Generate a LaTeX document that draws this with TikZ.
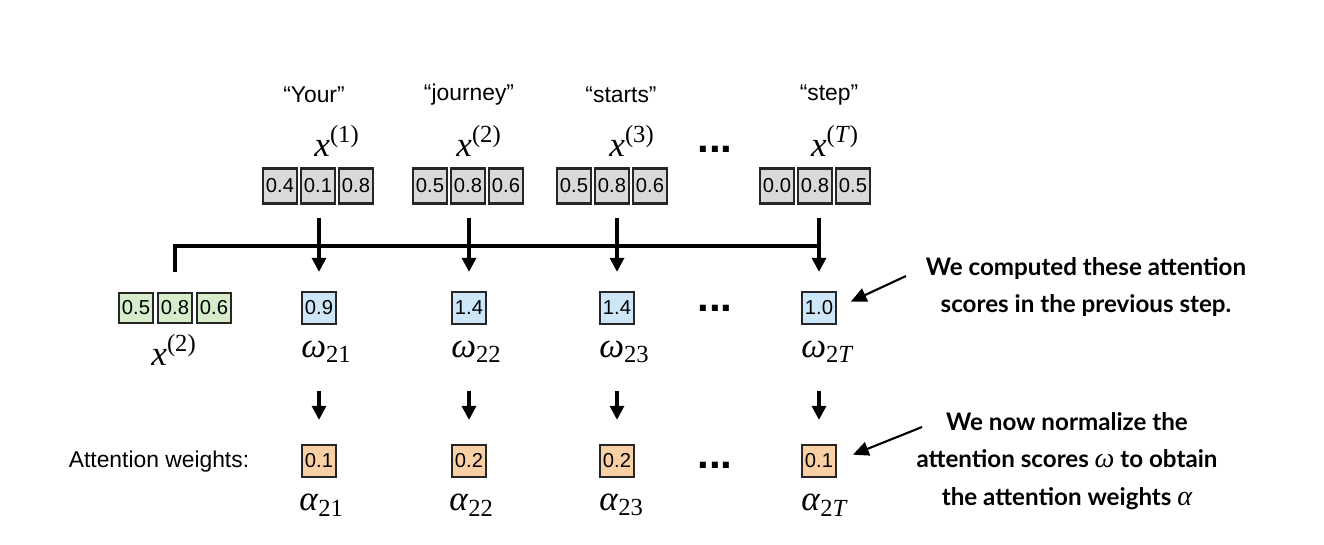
\documentclass[tikz,border=0pt]{standalone}
\usepackage{fontspec}
\setmainfont{Liberation Sans}
\newfontfamily\notefont{Lato}
\newfontfamily\symfont{Liberation Serif}
\usetikzlibrary{arrows.meta}

\definecolor{vecgray}{HTML}{D9D9D9}
\definecolor{vecgreen}{HTML}{D5EDCB}
\definecolor{scoreblue}{HTML}{CDE6F8}
\definecolor{weightorange}{HTML}{F9D0A6}

% italic letter with upright index
\newcommand{\symup}[2]{\textit{#1}\textsuperscript{#2}}
\newcommand{\symdown}[2]{\textit{#1}\textsubscript{#2}}

\begin{document}
\begin{tikzpicture}[x=0.02cm,y=-0.02cm]
        \tikzset{vec/.style = {draw=black!85,line width=1.3pt,fill=vecgray,minimum width=0.68cm,minimum height=0.7cm,inner sep=0pt,font=\fontsize{11.5}{11.5}\selectfont}}
        \tikzset{query/.style = {vec,minimum height=0.6cm,fill=vecgreen}}
        \tikzset{score/.style = {vec,minimum width=0.68cm,minimum height=0.64cm,fill=scoreblue,font=\fontsize{11.5}{11.5}\selectfont}}
        \tikzset{weight/.style = {score,fill=weightorange}}
        \tikzset{word/.style = {font=\fontsize{13}{13}\selectfont}}
        \tikzset{sym/.style = {inner sep=0pt,font=\symfont\fontsize{20}{20}\selectfont}}
        \tikzset{dots/.style = {anchor=base,inner sep=0pt,font=\fontsize{24}{24}\selectfont\bfseries}}
        \tikzset{note/.style = {align=center,font=\notefont\bfseries\fontsize{13.75}{21.5}\selectfont}}
        \tikzset{arr/.style = {line width=1.8pt,-{Triangle[length=8pt,width=8pt]}}}
        \tikzset{pointer/.style = {line width=1.2pt,-{Triangle[length=9pt,width=8pt]}}}

        \useasboundingbox[fill=white] (0,0) rectangle (1324,544);

        \node[word] (your) at (314,95) {“Your”};
        \node[word] (journey) at (469,95) {“journey”};
        \node[word] (starts) at (621,95) {“starts”};
        \node[word] (step) at (829,95) {“step”};

        \node[sym] (x1) at (337,141) {\symup{x}{(1)}};
        \node[sym] (x2) at (479,141) {\symup{x}{(2)}};
        \node[sym] (x3) at (632,141) {\symup{x}{(3)}};
        \node[sym] (xT) at (835,141) {\symup{x}{(\textit{T})}};
        \node[dots] (d1) at (715,153) {...};

        \node[vec] (x1a) at (280,186) {0.4};
        \node[vec] (x1b) at (318,186) {0.1};
        \node[vec] (x1c) at (356,186) {0.8};
        \node[vec] (x2a) at (430,186) {0.5};
        \node[vec] (x2b) at (468,186) {0.8};
        \node[vec] (x2c) at (506,186) {0.6};
        \node[vec] (x3a) at (574,186) {0.5};
        \node[vec] (x3b) at (612,186) {0.8};
        \node[vec] (x3c) at (650,186) {0.6};
        \node[vec] (xTa) at (777,186) {0.0};
        \node[vec] (xTb) at (815,186) {0.8};
        \node[vec] (xTc) at (853,186) {0.5};

        \node[query] (q1) at (136,308) {0.5};
        \node[query] (q2) at (175,308) {0.8};
        \node[query] (q3) at (214,308) {0.6};
        \node[sym] (xq) at (174,350) {\symup{x}{(2)}};

        \node[score] (s1) at (319,308) {0.9};
        \node[score] (s2) at (469,308) {1.4};
        \node[score] (s3) at (617,308) {1.4};
        \node[score] (sT) at (819,308) {1.0};
        \node[dots] (d2) at (715,311) {...};

        \node[sym,anchor=west] (w1) at (301,352) {\symdown{ω}{21}};
        \node[sym,anchor=west] (w2) at (451,352) {\symdown{ω}{22}};
        \node[sym,anchor=west] (w3) at (599,352) {\symdown{ω}{23}};
        \node[sym,anchor=west] (wT) at (801,352) {\symdown{ω}{2\textit{T}}};

        \node[word] (attn) at (159,462) {Attention weights:};
        \node[weight] (o1) at (319,461) {0.1};
        \node[weight] (o2) at (469,461) {0.2};
        \node[weight] (o3) at (617,461) {0.2};
        \node[weight] (oT) at (819,461) {0.1};
        \node[dots] (d3) at (715,468) {...};

        \node[sym,anchor=west] (a1) at (299,505) {\symdown{α}{21}};
        \node[sym,anchor=west] (a2) at (449,505) {\symdown{α}{22}};
        \node[sym,anchor=west] (a3) at (599,505) {\symdown{α}{23}};
        \node[sym,anchor=west] (aT) at (801,505) {\symdown{α}{2\textit{T}}};

        \node[note] (note1) at (1086,287) {We computed these attention\\scores in the previous step.};
        \node[note] (note2) at (1067,461) {We now normalize the\\attention scores {\symfont\mdseries\itshape\fontsize{16}{16}\selectfont ω} to obtain\\the attention weights {\symfont\mdseries\itshape\fontsize{16}{16}\selectfont α}};

        % query vector joins every input
        \coordinate (bus) at (819,246);
        \draw[line width=1.8pt,shorten <=0.4cm] (q2.north) |- (bus);

        \draw[arr,shorten <=0.26cm,shorten >=0.38cm] (s1 |- x1b.south) -- (s1.north);
        \draw[arr,shorten <=0.26cm,shorten >=0.38cm] (s2 |- x2b.south) -- (s2.north);
        \draw[arr,shorten <=0.26cm,shorten >=0.38cm] (s3 |- x3b.south) -- (s3.north);
        \draw[arr,shorten <=0.26cm,shorten >=0.38cm] (sT |- xTb.south) -- (sT.north);

        \draw[arr,shorten <=1.32cm,shorten >=0.48cm] (s1.south) -- (o1.north);
        \draw[arr,shorten <=1.32cm,shorten >=0.48cm] (s2.south) -- (o2.north);
        \draw[arr,shorten <=1.32cm,shorten >=0.48cm] (s3.south) -- (o3.north);
        \draw[arr,shorten <=1.32cm,shorten >=0.48cm] (sT.south) -- (oT.north);

        \coordinate (p1) at (906,276);
        \coordinate (p2) at (922,427);
        \draw[pointer,shorten >=0.3cm] (p1) -- (sT.east);
        \draw[pointer,shorten >=0.34cm] (p2) -- (oT.east);
    \end{tikzpicture}
\end{document}
